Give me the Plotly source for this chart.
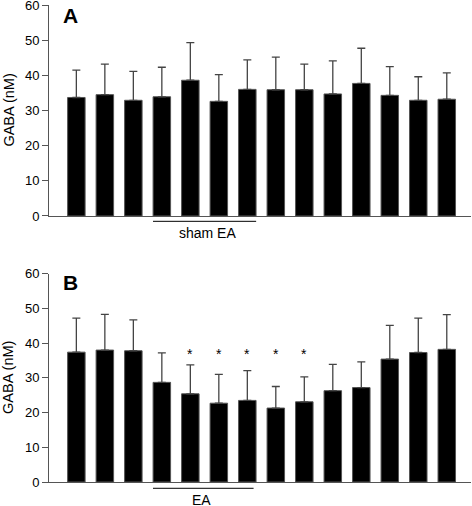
import plotly.graph_objects as go
from plotly.subplots import make_subplots

positions = list(range(14))
gaba_sham = [33.7, 34.5, 32.9, 33.9, 38.6, 32.6, 36.0, 35.9, 35.9, 34.7, 37.7, 34.3, 32.9, 33.2]
sd_sham = [7.8, 8.7, 8.2, 8.4, 10.7, 7.6, 8.4, 9.3, 7.3, 9.4, 10.0, 8.2, 6.7, 7.5]
gaba_ea = [37.4, 38.0, 37.8, 28.7, 25.4, 22.7, 23.5, 21.3, 23.1, 26.3, 27.2, 35.4, 37.3, 38.2]
sd_ea = [9.8, 10.3, 8.9, 8.5, 8.35, 8.3, 8.6, 6.2, 7.2, 7.6, 7.4, 9.7, 9.9, 10.0]
signif_ea = [4, 5, 6, 7, 8]
y_ticks = [0, 10, 20, 30, 40, 50, 60]

FONT = "Liberation Sans, Arial, sans-serif"

fig = make_subplots(rows=2, cols=1)

for row, vals, sds in [(1, gaba_sham, sd_sham), (2, gaba_ea, sd_ea)]:
    fig.add_trace(go.Bar(
        x=positions, y=vals,
        marker=dict(color="black", line=dict(color="#555", width=1)),
        error_y=dict(type="data", symmetric=False, array=sds,
                     arrayminus=[0] * len(sds), color="#444",
                     thickness=1.3, width=4),
        showlegend=False,
    ), row=row, col=1)

axis_common = dict(showline=True, linecolor="#555", linewidth=1, automargin=False)
for row in (1, 2):
    fig.update_xaxes(range=[-0.96, 13.85], showticklabels=False, ticks="",
                     showgrid=False, zeroline=False, **axis_common, row=row, col=1)
    fig.update_yaxes(range=[0, 60], tickvals=y_ticks, ticks="outside", ticklen=6,
                     tickcolor="#555", showgrid=False, zeroline=False,
                     ticklabeloverflow="allow",
                     tickfont=dict(family=FONT, size=13, color="black"),
                     **axis_common, row=row, col=1)

fig.update_layout(
    width=472, height=506,
    margin=dict(l=49, r=1, t=5, b=24),
    plot_bgcolor="white", paper_bgcolor="white",
    bargap=0.386,
    font=dict(family=FONT, color="black"),
    xaxis=dict(domain=[0, 1]), yaxis=dict(domain=[0.5577, 1.0]),
    xaxis2=dict(domain=[0, 1]), yaxis2=dict(domain=[0.0, 0.4367]),
)

ann = []
# y-axis titles
for yc in (0.7788, 0.2183):
    ann.append(dict(text="GABA (nM)", xref="paper", yref="paper", x=-0.097, y=yc,
                    textangle=-90, showarrow=False, font=dict(size=14.5, family=FONT),
                    xanchor="center", yanchor="middle"))
# panel letters
ann.append(dict(text="<b>A</b>", xref="paper", yref="paper", x=0.052, y=0.979,
                showarrow=False, font=dict(size=21, family=FONT), xanchor="center", yanchor="middle"))
ann.append(dict(text="<b>B</b>", xref="paper", yref="paper", x=0.052, y=0.4177,
                showarrow=False, font=dict(size=21, family=FONT), xanchor="center", yanchor="middle"))
# asterisks
for i in signif_ea:
    ann.append(dict(text="*", xref="x2", yref="y2", x=positions[i], y=37.0,
                    showarrow=False, font=dict(size=14, family=FONT, color="black"),
                    xanchor="center", yanchor="middle"))
# treatment labels
ann.append(dict(text="sham EA", xref="x", yref="paper", x=4.6, y=0.522,
                showarrow=False, font=dict(size=14, family=FONT),
                xanchor="center", yanchor="middle"))
ann.append(dict(text="EA", xref="x2", yref="paper", x=4.4, y=-0.038,
                showarrow=False, font=dict(size=14, family=FONT),
                xanchor="center", yanchor="middle"))
fig.update_layout(annotations=ann)

fig.add_shape(type="line", xref="x", yref="paper", x0=2.69, x1=6.31, y0=0.5465, y1=0.5465,
              line=dict(color="black", width=1))
fig.add_shape(type="line", xref="x2", yref="paper", x0=2.69, x1=6.22, y0=-0.0132, y1=-0.0132,
              line=dict(color="black", width=1))

fig.write_html("out.html", config={"displayModeBar": False},
               post_script="document.body.style.margin='0';document.body.style.overflow='hidden';")
